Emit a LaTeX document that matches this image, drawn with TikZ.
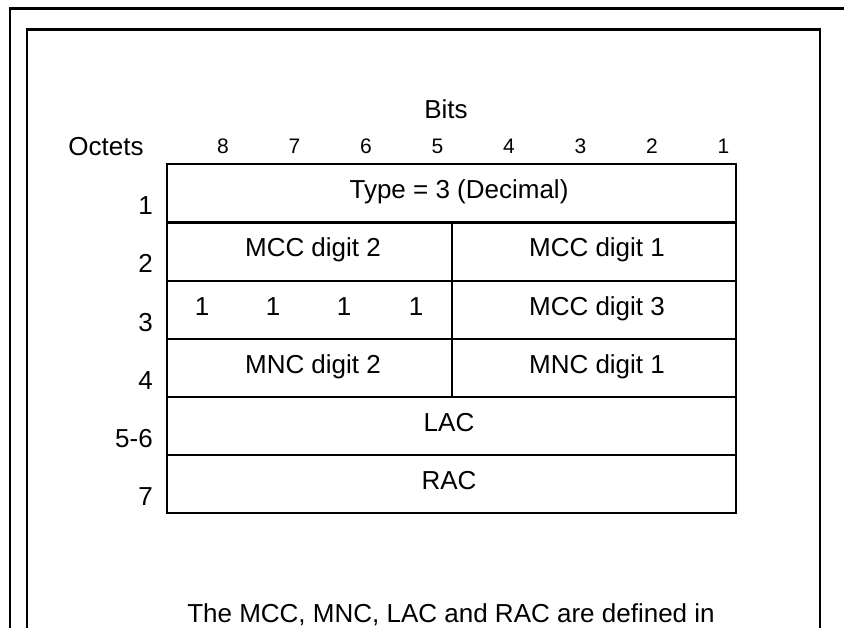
\documentclass[tikz,border=0pt]{standalone}
\usepackage{fontspec}
\setmainfont{Liberation Sans}

\begin{document}
\begin{tikzpicture}[x=1pt,y=-1pt,
  lbl/.style={anchor=base,inner sep=0pt,font=\fontsize{26}{30}\selectfont},
  bitnum/.style={anchor=base,inner sep=0pt,font=\fontsize{21}{25}\selectfont},
  rowlbl/.style={anchor=base east,inner sep=0pt,font=\fontsize{26}{30}\selectfont},
  outerframe/.style={line width=2.7pt},
  innerframe/.style={line width=2.2pt},
  tablebox/.style={line width=2pt},
  rowsep/.style={line width=2.6pt}]

\useasboundingbox (0,0) rectangle (844,627);

% --- FRAMES ---
\draw[outerframe] (10,640) -- (10,8.5) -- (860,8.5);
\draw[innerframe] (27,640) -- (27,29.5) -- (820,29.5) -- (820,640);

% --- HEADINGS ---
\node[lbl] (bits) at (446,118) {Bits};
\node[lbl] (octets) at (106,155) {Octets};

\foreach \b in {1,...,8}
  \node[bitnum] (bit\b) at ({223+71.5*(8-\b)},153) {\b};

% --- TABLE ---
\draw[tablebox] (167,164) rectangle (736,513);
\foreach \y in {222.5,281,339,397,455}
  \draw[rowsep] (167,\y) -- (736,\y);
\draw[tablebox] (451.5,222.5) -- (451.5,397);

% row numbers
\foreach \n/\y/\t in {r1/214/1, r2/272.5/2, r3/331/3, r4/389/4, r56/447/5-6, r7/505/7}
  \node[rowlbl] (\n) at (153,\y) {\t};

% cell contents
\node[lbl] (type) at (459,198) {Type = 3 (Decimal)};

\node[lbl] (mccii) at (313,256.5) {MCC digit 2};
\node[lbl] (mcci) at (597,256.5) {MCC digit 1};

\foreach \x [count=\i] in {202,273,344,416}
  \node[lbl] (spare\i) at (\x,315) {1};
\node[lbl] (mcciii) at (597,315) {MCC digit 3};

\node[lbl] (mncii) at (313,373) {MNC digit 2};
\node[lbl] (mnci) at (597,373) {MNC digit 1};

\node[lbl] (lac) at (449,431) {LAC};
\node[lbl] (rac) at (449,489) {RAC};

% --- NOTE ---
\node[lbl] (note) at (451,622) {The MCC, MNC, LAC and RAC are defined in};

\end{tikzpicture}
\end{document}
